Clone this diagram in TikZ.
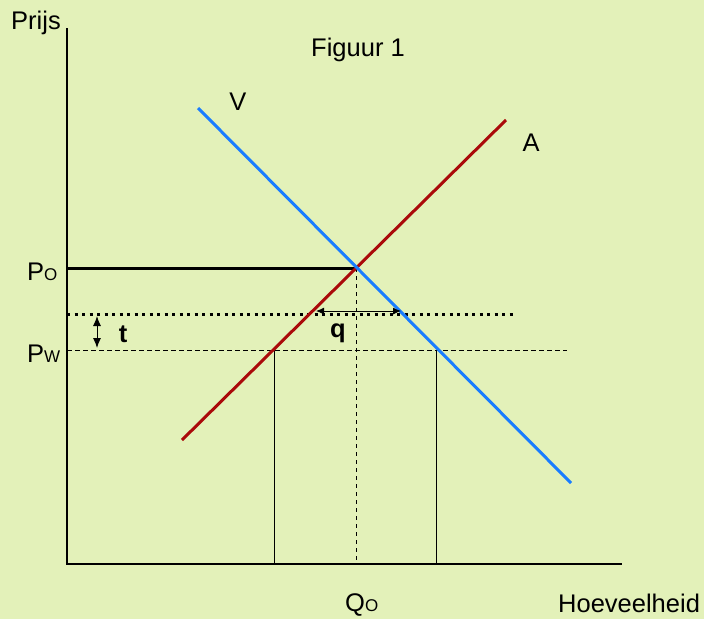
\documentclass[tikz,border=0pt]{standalone}
\usepackage{fontspec}
\setmainfont{Liberation Sans}
\usetikzlibrary{arrows.meta}
\definecolor{bg}{RGB}{227,241,185}
\definecolor{vblue}{RGB}{25,125,255}
\definecolor{ared}{RGB}{170,10,10}
\begin{document}
\begin{tikzpicture}[x=1pt,y=-1pt,
  lbl/.style={inner sep=0pt,font=\fontsize{25.5}{30}\selectfont},
  axis/.style={line width=1.3pt,black},
  curve/.style={line width=3pt},
  thinline/.style={line width=0.9pt,black},
  dbl/.style={line width=1pt,{Latex[length=10pt,width=8pt]}-{Latex[length=10pt,width=8pt]}}]
\fill[bg] (0,0) rectangle (704,619);
\useasboundingbox (0,0) rectangle (704,619);
% axes
\coordinate (O) at (67,564);
\coordinate (ytop) at (67,28);
\coordinate (xend) at (622,564);
\draw[axis] (ytop) -- (O) -- (xend);
% key points
\coordinate (E) at (356,268);
\coordinate (Vs) at (198,108);
\coordinate (Ve) at (571,483);
\coordinate (As) at (182,440);
\coordinate (Ae) at (506,120);
\coordinate (PoL) at (67,268);
\coordinate (DotL) at (67,314);
\coordinate (DotR) at (517,314);
\coordinate (PwL) at (67,350);
\coordinate (PwR) at (567,350);
\coordinate (Qa) at (274,350);
\coordinate (Qab) at (274,564);
\coordinate (Qb) at (436,350);
\coordinate (Qbb) at (436,564);
\coordinate (Eb) at (356,564);
\coordinate (tT) at (97,316);
\coordinate (tB) at (97,348);
\coordinate (qL) at (316,311);
\coordinate (qR) at (401,311);
% reference lines
\draw[thinline,dash pattern=on 5pt off 3pt] (PwL) -- (PwR);
\draw[thinline] (Qa) -- (Qab);
\draw[thinline] (Qb) -- (Qbb);
\draw[thinline,dash pattern=on 4pt off 4pt] (E) -- (Eb);
\draw[line width=3pt,black] (PoL) -- (E);
\draw[line width=3pt,black,dash pattern=on 3pt off 4.5pt] (DotL) -- (DotR);
% curves
\draw[curve,ared] (As) -- (Ae);
\draw[curve,vblue] (Vs) -- (Ve);
% arrows
\draw[dbl] (tT) -- (tB);
\draw[line width=0.9pt,{Latex[length=8pt,width=7pt]}-{Latex[length=8pt,width=7pt]}] (qL) -- (qR);
% labels
\node[lbl,anchor=base] (prijs) at (36,29) {Prijs};
\node[lbl,anchor=base] (fig) at (358,56) {Figuur 1};
\node[lbl,anchor=base] (vlab) at (238,110) {V};
\node[lbl,anchor=base] (alab) at (531,151) {A};
\node[lbl,anchor=base west] (po) at (27,280) {P\fontsize{17}{20}\selectfont O};
\node[lbl,anchor=base west] (pw) at (27,362) {P\fontsize{17}{20}\selectfont W};
\node[lbl,anchor=base,font=\fontsize{25.5}{30}\selectfont\bfseries] (tl) at (123,342) {t};
\node[lbl,anchor=base,font=\fontsize{25.5}{30}\selectfont\bfseries] (ql) at (338,337) {q};
\node[lbl,anchor=base west] (qo) at (345,611) {Q\fontsize{17}{20}\selectfont O};
\node[lbl,anchor=base west] (hv) at (558,612) {Hoeveelheid};
\end{tikzpicture}
\end{document}
